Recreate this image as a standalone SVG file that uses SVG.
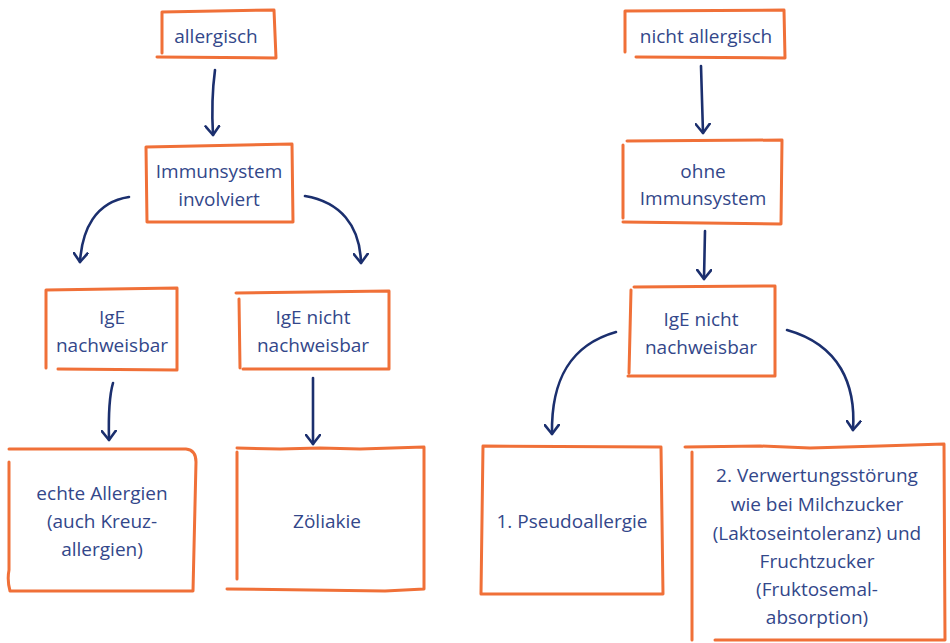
<svg xmlns="http://www.w3.org/2000/svg" width="950" height="643" viewBox="0 0 950 643">
<defs>
<style>
.box{fill:none;stroke:#f07038;stroke-width:3;stroke-linecap:round;stroke-linejoin:round}
.con{fill:none;stroke:#1b2f6e;stroke-width:2.6;stroke-linecap:round;stroke-linejoin:round}
text{font-family:"Open Sans","Noto Sans",sans-serif;font-size:19px;fill:#33478a;text-anchor:middle}
</style>
<marker id="ah" viewBox="-10 -8 12 16" markerWidth="12" markerHeight="16" refX="0" refY="0" orient="auto" markerUnits="userSpaceOnUse">
<path d="M-9,-7 L0,0 L-9,7" fill="none" stroke="#1b2f6e" stroke-width="2.6" stroke-linecap="round" stroke-linejoin="round"/>
</marker>
</defs>
<rect width="950" height="643" fill="#ffffff"/>

<g id="n-allergisch">
<path class="box" d="M162,12 L274,10 L276,58 L157,57 M162,12 L162,53"/>
<text x="216" y="43">allergisch</text>
</g>
<g id="n-immunsystem">
<path class="box" d="M146,147 L292,144 L293,222 L147,222 Z"/>
<text x="219" y="178">Immunsystem</text>
<text x="219" y="206">involviert</text>
</g>
<g id="n-ige">
<path class="box" d="M46,290 L177,288 L177,370 L58,369 M46,290 L46,368"/>
<text x="112" y="324">IgE</text>
<text x="112" y="352">nachweisbar</text>
</g>
<g id="n-ige-nicht-l">
<path class="box" d="M236,293 L389,291 L389,369 L243,369 M239,299 L240,368"/>
<text x="313" y="324">IgE nicht</text>
<text x="313" y="352">nachweisbar</text>
</g>
<g id="n-echte">
<path class="box" d="M9,449 L186,449 Q196,450 196,462 L193,591 L10,591 Q7,580 9,570 L9,462"/>
<text x="102" y="500">echte Allergien</text>
<text x="102" y="528">(auch Kreuz-</text>
<text x="102" y="556">allergien)</text>
</g>
<g id="n-zoeliakie">
<path class="box" d="M237,448 L280,449 L320,448 L360,449 L424,447 L424,589 L385,591 L227,589 M237,452 L237,579"/>
<text x="327" y="528">Zöliakie</text>
</g>

<g id="n-nicht-allergisch">
<path class="box" d="M625,11 L784,10 L785,58 L636,57 M625,11 L625,52"/>
<text x="706" y="43">nicht allergisch</text>
</g>
<g id="n-ohne">
<path class="box" d="M627,141 L782,140 L781,224 L623,222 M623,145 L623,218"/>
<text x="703" y="178">ohne</text>
<text x="703" y="205">Immunsystem</text>
</g>
<g id="n-ige-nicht-r">
<path class="box" d="M634,287 L775,286 L775,376 L628,376 M631,290 L629,373"/>
<text x="701" y="326">IgE nicht</text>
<text x="701" y="354">nachweisbar</text>
</g>
<g id="n-pseudo">
<path class="box" d="M483,446 L661,447 L663,594 L481,594 L483,446 Z"/>
<text x="572" y="528">1. Pseudoallergie</text>
</g>
<g id="n-verwertung">
<path class="box" d="M685,447 L760,446 L810,448 L880,446 L944,444 L945,640 L715,640 M692,452 L692,640"/>
<text x="817" y="482">2. Verwertungsstörung</text>
<text x="817" y="511">wie bei Milchzucker</text>
<text x="817" y="540">(Laktoseintoleranz) und</text>
<text x="817" y="568">Fruchtzucker</text>
<text x="817" y="596">(Fruktosemal-</text>
<text x="817" y="624">absorption)</text>
</g>

<g id="connectors">
<path class="con" marker-end="url(#ah)" d="M215,70 Q211,100 213,135"/>
<path class="con" marker-end="url(#ah)" d="M129,197 C95,202 82,230 80,262"/>
<path class="con" marker-end="url(#ah)" d="M305,196 C340,202 360,225 361,263"/>
<path class="con" marker-end="url(#ah)" d="M113,383 Q108,400 109,440"/>
<path class="con" marker-end="url(#ah)" d="M313,378 Q313,410 313,444"/>
<path class="con" marker-end="url(#ah)" d="M701,66 Q702,100 703,133"/>
<path class="con" marker-end="url(#ah)" d="M705,231 L704,279"/>
<path class="con" marker-end="url(#ah)" d="M616,332 C570,345 551,380 552,434"/>
<path class="con" marker-end="url(#ah)" d="M787,330 C840,345 856,385 853,430"/>
</g>
</svg>
